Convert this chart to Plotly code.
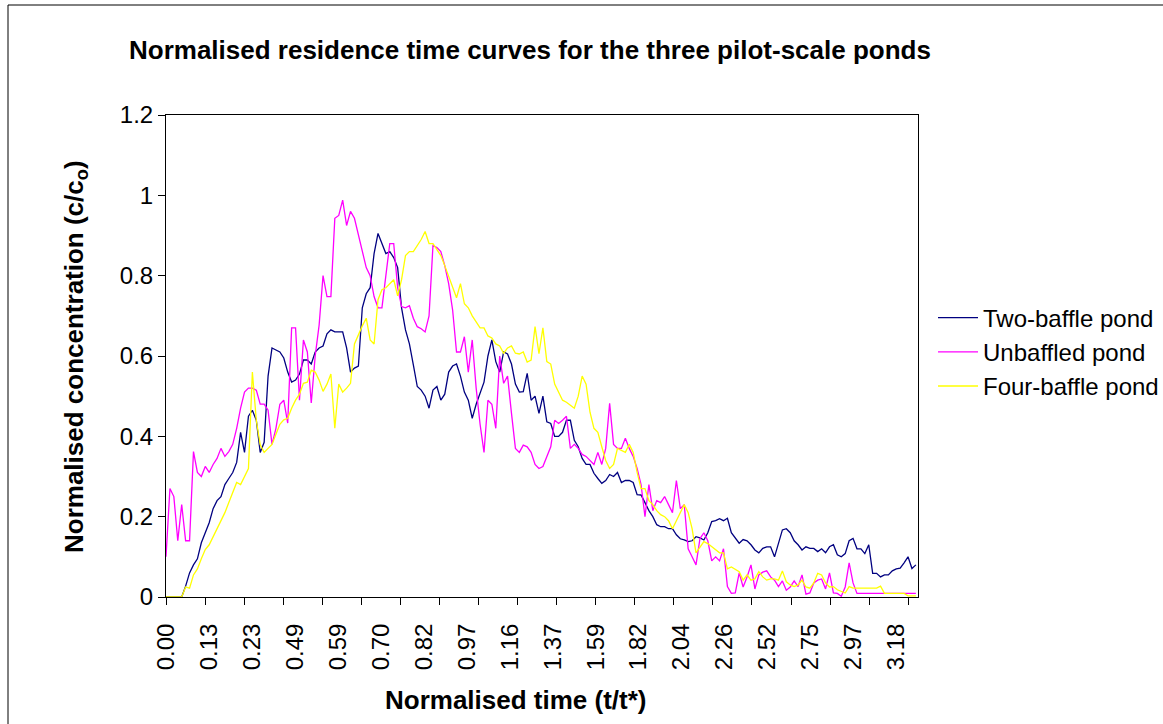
import numpy as np
import plotly.graph_objects as go

# category labels shown on the x axis (normalised time t/t*)
time_labels = ["0.00", "0.13", "0.23", "0.49", "0.59", "0.70", "0.82", "0.97", "1.16",
               "1.37", "1.59", "1.82", "2.04", "2.26", "2.52", "2.75", "2.97", "3.18"]

# normalised concentration c/co, read every ~2 samples
two_baffle = [
    0, 0, 0, 0, 0, 0.027, 0.06, 0.08, 0.095, 0.135,
    0.16, 0.185, 0.22, 0.24, 0.25, 0.28, 0.295, 0.31, 0.335, 0.41,
    0.36, 0.45, 0.465, 0.44, 0.36, 0.385, 0.55, 0.62, 0.615, 0.61,
    0.595, 0.56, 0.535, 0.54, 0.555, 0.59, 0.59, 0.58, 0.61, 0.62,
    0.625, 0.655, 0.665, 0.66, 0.66, 0.66, 0.62, 0.56, 0.57, 0.575,
    0.72, 0.755, 0.77, 0.855, 0.905, 0.88, 0.855, 0.86, 0.845, 0.82,
    0.72, 0.665, 0.63, 0.578, 0.524, 0.515, 0.50, 0.47, 0.515, 0.524,
    0.49, 0.505, 0.56, 0.575, 0.58, 0.55, 0.51, 0.49, 0.445, 0.48,
    0.507, 0.535, 0.60, 0.64, 0.586, 0.56, 0.61, 0.605, 0.58, 0.53,
    0.51, 0.511, 0.557, 0.49, 0.50, 0.457, 0.50, 0.436, 0.432, 0.40,
    0.40, 0.41, 0.44, 0.44, 0.39, 0.374, 0.345, 0.33, 0.33, 0.308,
    0.295, 0.283, 0.29, 0.305, 0.30, 0.31, 0.285, 0.29, 0.29, 0.285,
    0.255, 0.254, 0.235, 0.215, 0.20, 0.18, 0.175, 0.175, 0.17, 0.17,
    0.155, 0.145, 0.142, 0.138, 0.14, 0.15, 0.147, 0.142, 0.16, 0.188,
    0.19, 0.195, 0.19, 0.196, 0.16, 0.146, 0.134, 0.143, 0.14, 0.13,
    0.117, 0.11, 0.121, 0.125, 0.125, 0.10, 0.133, 0.167, 0.17, 0.16,
    0.14, 0.13, 0.117, 0.125, 0.121, 0.121, 0.113, 0.12, 0.11, 0.125,
    0.13, 0.105, 0.10, 0.108, 0.14, 0.146, 0.12, 0.12, 0.108, 0.13,
    0.059, 0.059, 0.05, 0.055, 0.055, 0.065, 0.07, 0.072, 0.085, 0.10,
    0.071, 0.08,
]

unbaffled = [
    0.10, 0.27, 0.25, 0.14, 0.23, 0.14, 0.14, 0.362, 0.31, 0.30,
    0.325, 0.31, 0.33, 0.345, 0.37, 0.35, 0.362, 0.38, 0.42, 0.47,
    0.51, 0.52, 0.52, 0.515, 0.48, 0.48, 0.465, 0.38, 0.42, 0.48,
    0.49, 0.433, 0.67, 0.67, 0.49, 0.64, 0.61, 0.483, 0.60, 0.677,
    0.80, 0.748, 0.748, 0.943, 0.95, 0.988, 0.925, 0.96, 0.943, 0.90,
    0.86, 0.82, 0.80, 0.748, 0.72, 0.72, 0.80, 0.88, 0.88, 0.77,
    0.723, 0.72, 0.725, 0.694, 0.673, 0.668, 0.66, 0.70, 0.875, 0.87,
    0.86, 0.825, 0.78, 0.715, 0.61, 0.61, 0.648, 0.56, 0.64, 0.52,
    0.43, 0.36, 0.49, 0.48, 0.42, 0.60, 0.532, 0.55, 0.457, 0.37,
    0.36, 0.378, 0.374, 0.36, 0.33, 0.32, 0.325, 0.35, 0.374, 0.44,
    0.432, 0.44, 0.45, 0.37, 0.38, 0.37, 0.355, 0.35, 0.34, 0.33,
    0.36, 0.33, 0.37, 0.482, 0.38, 0.37, 0.37, 0.395, 0.37, 0.35,
    0.32, 0.28, 0.20, 0.28, 0.215, 0.24, 0.235, 0.25, 0.23, 0.21,
    0.29, 0.22, 0.23, 0.12, 0.10, 0.08, 0.145, 0.16, 0.14, 0.09,
    0.10, 0.09, 0.12, 0.026, 0.009, 0.01, 0.06, 0.025, 0.05, 0.08,
    0.02, 0.055, 0.062, 0.065, 0.05, 0.042, 0.026, 0.04, 0.017, 0.025,
    0.04, 0.026, 0.055, 0.007, 0.01, 0.035, 0.042, 0.045, 0.02, 0.06,
    0.01, 0.009, 0.002, 0.025, 0.085, 0.035, 0.009, 0.009, 0.009, 0.009,
    0.009, 0.009, 0.009, 0.009, 0.009, 0.009, 0.009, 0.009, 0.009, 0.009,
    0.009, 0.009,
]

four_baffle = [
    0, 0, 0, 0, 0, 0.025, 0.022, 0.055, 0.07, 0.095,
    0.118, 0.13, 0.15, 0.167, 0.19, 0.21, 0.235, 0.26, 0.285, 0.28,
    0.30, 0.32, 0.56, 0.44, 0.379, 0.36, 0.37, 0.38, 0.405, 0.43,
    0.441, 0.445, 0.47, 0.49, 0.505, 0.532, 0.535, 0.565, 0.56, 0.54,
    0.512, 0.53, 0.555, 0.42, 0.53, 0.51, 0.52, 0.532, 0.63, 0.655,
    0.675, 0.694, 0.64, 0.63, 0.74, 0.765, 0.77, 0.78, 0.79, 0.75,
    0.79, 0.85, 0.86, 0.86, 0.875, 0.89, 0.91, 0.88, 0.88, 0.865,
    0.85, 0.825, 0.80, 0.77, 0.745, 0.78, 0.73, 0.72, 0.70, 0.685,
    0.67, 0.67, 0.65, 0.645, 0.63, 0.625, 0.607, 0.62, 0.625, 0.607,
    0.605, 0.61, 0.585, 0.59, 0.673, 0.606, 0.67, 0.586, 0.58, 0.53,
    0.51, 0.49, 0.485, 0.478, 0.47, 0.50, 0.55, 0.53, 0.46, 0.42,
    0.41, 0.374, 0.34, 0.32, 0.33, 0.37, 0.365, 0.36, 0.38, 0.36,
    0.31, 0.27, 0.27, 0.24, 0.23, 0.215, 0.205, 0.20, 0.19, 0.17,
    0.19, 0.21, 0.23, 0.21, 0.17, 0.11, 0.125, 0.138, 0.133, 0.125,
    0.117, 0.11, 0.11, 0.07, 0.075, 0.07, 0.063, 0.042, 0.055, 0.042,
    0.045, 0.063, 0.05, 0.042, 0.045, 0.045, 0.042, 0.065, 0.038, 0.03,
    0.026, 0.03, 0.042, 0.025, 0.022, 0.035, 0.059, 0.055, 0.035, 0.025,
    0.026, 0.018, 0.013, 0.01, 0.026, 0.022, 0.022, 0.022, 0.022, 0.022,
    0.022, 0.022, 0.027, 0.009, 0.009, 0.009, 0.009, 0.009, 0.009, 0.003,
    0.003, 0.003,
]

series_names = ["Two-baffle pond", "Unbaffled pond", "Four-baffle pond"]
series_colors = ["#000080", "#FF00FF", "#FFFF00"]

# category axis geometry (Excel-style): labels every 22 categories, tick marks every 20
N_CAT = 386
SAMPLE_STEP = 2.01
LABEL_EVERY = 22
TICK_EVERY = 20

FONT = "Liberation Sans, Arial, sans-serif"

fig = go.Figure()
for name, vals, col in zip(series_names, [two_baffle, unbaffled, four_baffle], series_colors):
    x = np.arange(len(vals)) * SAMPLE_STEP
    fig.add_trace(go.Scatter(x=x, y=vals, mode="lines", name=name,
                             line=dict(color=col, width=1.3)))

label_pos = np.arange(len(time_labels)) * LABEL_EVERY
tick_pos = np.arange(0, N_CAT, TICK_EVERY)

W, H = 1163, 724
L, R, T, B = 166, 245, 115, 127
pw, ph = W - L - R, H - T - B


def px(xp):
    return (xp - L) / pw


def py(yp):
    return (H - B - yp) / ph


fig.update_layout(
    width=W, height=H,
    margin=dict(l=L, r=R, t=T, b=B, autoexpand=False),
    paper_bgcolor="white", plot_bgcolor="white",
    font=dict(family=FONT, color="black", size=24),
    showlegend=True,
    legend=dict(xref="container", yref="container",
                x=933 / W, y=1 - 352 / H, xanchor="left", yanchor="middle",
                font=dict(size=24, family=FONT), bgcolor="rgba(0,0,0,0)",
                tracegroupgap=0, itemwidth=40),
    xaxis=dict(range=[0, N_CAT - 1], tickmode="array", tickvals=label_pos,
               ticktext=time_labels, ticks="", tickangle=-90,
               tickfont=dict(size=24, family=FONT),
               showline=True, linecolor="black", linewidth=1, mirror=True,
               showgrid=False, zeroline=False, ticklabelstandoff=16,
               minor=dict(tickmode="array", tickvals=tick_pos, ticks="outside",
                          ticklen=7, tickcolor="black", tickwidth=1, showgrid=False)),
    yaxis=dict(range=[0, 1.2], tickmode="linear", tick0=0, dtick=0.2,
               ticks="outside", ticklen=7, tickcolor="black",
               tickfont=dict(size=24, family=FONT),
               showline=True, linecolor="black", linewidth=1, mirror=True,
               showgrid=False, zeroline=False),
)

fig.add_annotation(text="<b>Normalised residence time curves for the three pilot-scale ponds</b>",
                   xref="paper", yref="paper", x=px(530), y=py(50), showarrow=False,
                   xanchor="center", yanchor="middle", font=dict(size=26, family=FONT))
fig.add_annotation(text="<b>Normalised time (t/t*)</b>",
                   xref="paper", yref="paper", x=px(516), y=py(700), showarrow=False,
                   xanchor="center", yanchor="middle", font=dict(size=26, family=FONT))
fig.add_annotation(text="<b>Normalised concentration (c/c<sub>o</sub>)</b>",
                   xref="paper", yref="paper", x=px(75), y=py(357), showarrow=False,
                   textangle=-90, xanchor="center", yanchor="middle",
                   font=dict(size=26, family=FONT))

fig.add_shape(type="rect", xref="paper", yref="paper",
              x0=px(8), x1=px(1200), y0=py(760), y1=py(5),
              line=dict(color="black", width=1), fillcolor="rgba(0,0,0,0)", layer="below")

fig.write_html("out.html")
